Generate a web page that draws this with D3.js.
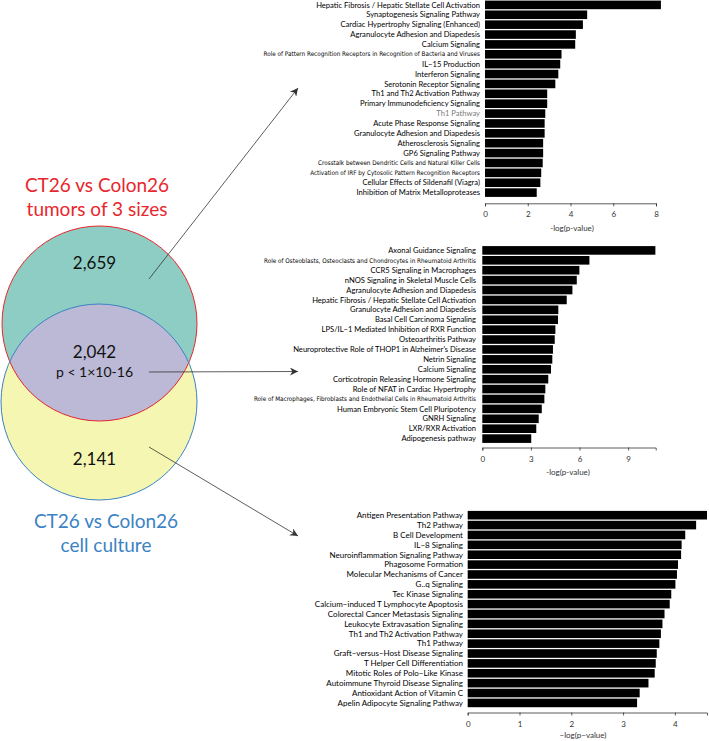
<!DOCTYPE html>
<html><head><meta charset="utf-8">
<script src="https://cdn.jsdelivr.net/npm/d3@7"></script>
<style>
html,body{margin:0;padding:0;background:#fff;}
svg{display:block;}
text{font-family:Lato,"Open Sans",sans-serif;}
.small{font-family:"Liberation Sans Narrow","DejaVu Sans Condensed","DejaVu Sans",sans-serif;font-stretch:condensed;}
</style></head><body>
<svg id="chart" width="709" height="741"></svg>
<script>
// ---------------- DATA ----------------
const vennCounts = ["2,659", "2,042", "2,141"];
const vennPValue = "p < 1×10-16";
const setATitle = ["CT26 vs Colon26", "tumors of 3 sizes"];
const setBTitle = ["CT26 vs Colon26", "cell culture"];

const topLabels = [
  "Hepatic Fibrosis / Hepatic Stellate Cell Activation",
  "Synaptogenesis Signaling Pathway",
  "Cardiac Hypertrophy Signaling (Enhanced)",
  "Agranulocyte Adhesion and Diapedesis",
  "Calcium Signaling",
  "Role of Pattern Recognition Receptors in Recognition of Bacteria and Viruses",
  "IL−15 Production",
  "Interferon Signaling",
  "Serotonin Receptor Signaling",
  "Th1 and Th2 Activation Pathway",
  "Primary Immunodeficiency Signaling",
  "Th1 Pathway",
  "Acute Phase Response Signaling",
  "Granulocyte Adhesion and Diapedesis",
  "Atherosclerosis Signaling",
  "GP6 Signaling Pathway",
  "Crosstalk between Dendritic Cells and Natural Killer Cells",
  "Activation of IRF by Cytosolic Pattern Recognition Receptors",
  "Cellular Effects of Sildenafil (Viagra)",
  "Inhibition of Matrix Metalloproteases"
];
const topValues = [8.23, 4.78, 4.58, 4.25, 4.22, 3.58, 3.52, 3.43, 3.29, 2.91,
                   2.91, 2.82, 2.79, 2.79, 2.72, 2.72, 2.70, 2.63, 2.59, 2.42];
const topTicks = [0, 2, 4, 6, 8];
const topAxisMax = 8;

const midLabels = [
  "Axonal Guidance Signaling",
  "Role of Osteoblasts, Osteoclasts and Chondrocytes in Rheumatoid Arthritis",
  "CCR5 Signaling in Macrophages",
  "nNOS Signaling in Skeletal Muscle Cells",
  "Agranulocyte Adhesion and Diapedesis",
  "Hepatic Fibrosis / Hepatic Stellate Cell Activation",
  "Granulocyte Adhesion and Diapedesis",
  "Basal Cell Carcinoma Signaling",
  "LPS/IL−1 Mediated Inhibition of RXR Function",
  "Osteoarthritis Pathway",
  "Neuroprotective Role of THOP1 in Alzheimer's Disease",
  "Netrin Signaling",
  "Calcium Signaling",
  "Corticotropin Releasing Hormone Signaling",
  "Role of NFAT in Cardiac Hypertrophy",
  "Role of Macrophages, Fibroblasts and Endothelial Cells in Rheumatoid Arthritis",
  "Human Embryonic Stem Cell Pluripotency",
  "GNRH Signaling",
  "LXR/RXR Activation",
  "Adipogenesis pathway"
];
const midValues = [10.68, 6.61, 5.99, 5.83, 5.56, 5.21, 4.69, 4.67, 4.51, 4.47,
                   4.36, 4.32, 4.24, 4.07, 3.89, 3.83, 3.67, 3.48, 3.33, 3.02];
const midTicks = [0, 3, 6, 9];
const midAxisMax = 10.7;

const botLabels = [
  "Antigen Presentation Pathway",
  "Th2 Pathway",
  "B Cell Development",
  "IL−8 Signaling",
  "Neuroinflammation Signaling Pathway",
  "Phagosome Formation",
  "Molecular Mechanisms of Cancer",
  "G..q Signaling",
  "Tec Kinase Signaling",
  "Calcium−induced T Lymphocyte Apoptosis",
  "Colorectal Cancer Metastasis Signaling",
  "Leukocyte Extravasation Signaling",
  "Th1 and Th2 Activation Pathway",
  "Th1 Pathway",
  "Graft−versus−Host Disease Signaling",
  "T Helper Cell Differentiation",
  "Mitotic Roles of Polo−Like Kinase",
  "Autoimmune Thyroid Disease Signaling",
  "Antioxidant Action of Vitamin C",
  "Apelin Adipocyte Signaling Pathway"
];
const botValues = [4.62, 4.41, 4.20, 4.13, 4.12, 4.06, 4.04, 4.01, 3.93, 3.90,
                   3.80, 3.76, 3.73, 3.70, 3.65, 3.63, 3.61, 3.49, 3.32, 3.27];
const botTicks = [0, 1, 2, 3, 4];
const botAxisMax = 4.62;

// ---------------- DRAW ----------------
const svg = d3.select("#chart");

function barPanel(cfg) {
  const g = svg.append("g");
  const x = d3.scaleLinear().domain([0, cfg.axisMax]).range([cfg.x0, cfg.x1]);
  const y = d3.scaleBand().domain(d3.range(cfg.labels.length))
    .range([cfg.y0, cfg.y1]).paddingInner(0.13).paddingOuter(0.06);
  g.selectAll("rect").data(cfg.values).join("rect")
    .attr("x", x(0)).attr("y", (d, i) => y(i))
    .attr("width", d => x(d) - x(0)).attr("height", y.bandwidth())
    .attr("fill", "#000");
  g.selectAll("text.lab").data(cfg.labels).join("text")
    .attr("class", d => d.length > 55 ? "lab small" : "lab")
    .attr("x", cfg.labelX).attr("y", (d, i) => y(i) + y.bandwidth() / 2)
    .attr("dy", "0.35em").attr("text-anchor", "end")
    .attr("font-size", d => d.length > 55 ? cfg.smallSize : cfg.fontSize)
    .attr("fill", (d, i) => i === cfg.grayIndex ? "#7a7a7a" : "#000")
    .text(d => d);
  const ax = g.append("g").attr("transform", `translate(0,${cfg.axisY})`)
    .call(d3.axisBottom(x).tickValues(cfg.ticks).tickFormat(d3.format("d"))
      .tickSize(3).tickSizeOuter(3).tickPadding(5.5));
  ax.selectAll("path,line").attr("stroke", "#333").attr("stroke-width", 0.8);
  ax.selectAll("text").attr("font-size", 8).attr("fill", "#333")
    .attr("font-family", "Lato, sans-serif");
  g.append("text").attr("x", cfg.titleX).attr("y", cfg.titleY)
    .attr("text-anchor", "middle").attr("font-size", 8).attr("fill", "#333")
    .text(cfg.title);
}

barPanel({labels: topLabels, values: topValues, ticks: topTicks, axisMax: topAxisMax,
  x0: 485, x1: 656, y0: 0, y1: 197.5, axisY: 203.3, labelX: 480, fontSize: 7.6, smallSize: 6.3,
  grayIndex: 11, titleX: 572, titleY: 231, title: "-log(p-value)"});
barPanel({labels: midLabels, values: midValues, ticks: midTicks, axisMax: midAxisMax,
  x0: 482.3, x1: 655.7, y0: 245.5, y1: 443.5, axisY: 447.5, labelX: 476, fontSize: 7.6, smallSize: 6.3,
  grayIndex: -1, titleX: 568, titleY: 475, title: "-log(p-value)"});
barPanel({labels: botLabels, values: botValues, ticks: botTicks, axisMax: botAxisMax,
  x0: 467.7, x1: 707, y0: 510.3, y1: 707.8, axisY: 712.5, labelX: 463, fontSize: 8, smallSize: 6.3,
  grayIndex: -1, titleX: 583, titleY: 738, title: "−log(p−value)"});

// Venn
const A = {cx: 99.5, cy: 323.5, r: 97.5};
const B = {cx: 99, cy: 402, r: 98};
const defs = svg.append("defs");
defs.append("clipPath").attr("id", "clipA").append("circle")
  .attr("cx", A.cx).attr("cy", A.cy).attr("r", A.r);
const mk = defs.append("marker").attr("id", "arr").attr("viewBox", "0 0 10 10")
  .attr("refX", 10).attr("refY", 5).attr("markerWidth", 10).attr("markerHeight", 8)
  .attr("markerUnits", "userSpaceOnUse").attr("orient", "auto");
mk.append("path").attr("d", "M0,0 L10,5 L0,10 L3,5 Z").attr("fill", "#333");

const vg = svg.append("g");
vg.append("circle").attr("cx", B.cx).attr("cy", B.cy).attr("r", B.r).attr("fill", "#f6f6b3");
vg.append("circle").attr("cx", A.cx).attr("cy", A.cy).attr("r", A.r).attr("fill", "#8ecdc3");
vg.append("circle").attr("cx", B.cx).attr("cy", B.cy).attr("r", B.r).attr("fill", "#bcb9d6")
  .attr("clip-path", "url(#clipA)");
vg.append("circle").attr("cx", A.cx).attr("cy", A.cy).attr("r", A.r).attr("fill", "none")
  .attr("stroke", "#e8262d").attr("stroke-width", 1);
vg.append("circle").attr("cx", B.cx).attr("cy", B.cy).attr("r", B.r).attr("fill", "none")
  .attr("stroke", "#3b82c4").attr("stroke-width", 1);

vg.selectAll("text.ta").data(setATitle).join("text").attr("class", "ta")
  .attr("x", 97).attr("y", (d, i) => 192 + i * 23.5).attr("text-anchor", "middle")
  .attr("font-size", 19).attr("fill", "#e8262d").text(d => d);
vg.selectAll("text.tb").data(setBTitle).join("text").attr("class", "tb")
  .attr("x", 106).attr("y", (d, i) => 528 + i * 24).attr("text-anchor", "middle")
  .attr("font-size", 19).attr("fill", "#3b82c4").text(d => d);
const countY = [269, 358, 465];
vg.selectAll("text.cnt").data(vennCounts).join("text").attr("class", "cnt")
  .attr("x", 94.5).attr("y", (d, i) => countY[i]).attr("text-anchor", "middle")
  .attr("font-size", 17).attr("fill", "#111").text(d => d);
vg.append("text").attr("x", 94.5).attr("y", 377).attr("text-anchor", "middle")
  .attr("font-size", 14).attr("fill", "#111").text(vennPValue);

// arrows
const arrows = [[149, 279, 298, 88], [149, 372, 298, 371.5], [149, 447, 298, 536]];
svg.selectAll("line.arr").data(arrows).join("line").attr("class", "arr")
  .attr("x1", d => d[0]).attr("y1", d => d[1]).attr("x2", d => d[2]).attr("y2", d => d[3])
  .attr("stroke", "#333").attr("stroke-width", 0.8).attr("marker-end", "url(#arr)");
</script></body></html>
